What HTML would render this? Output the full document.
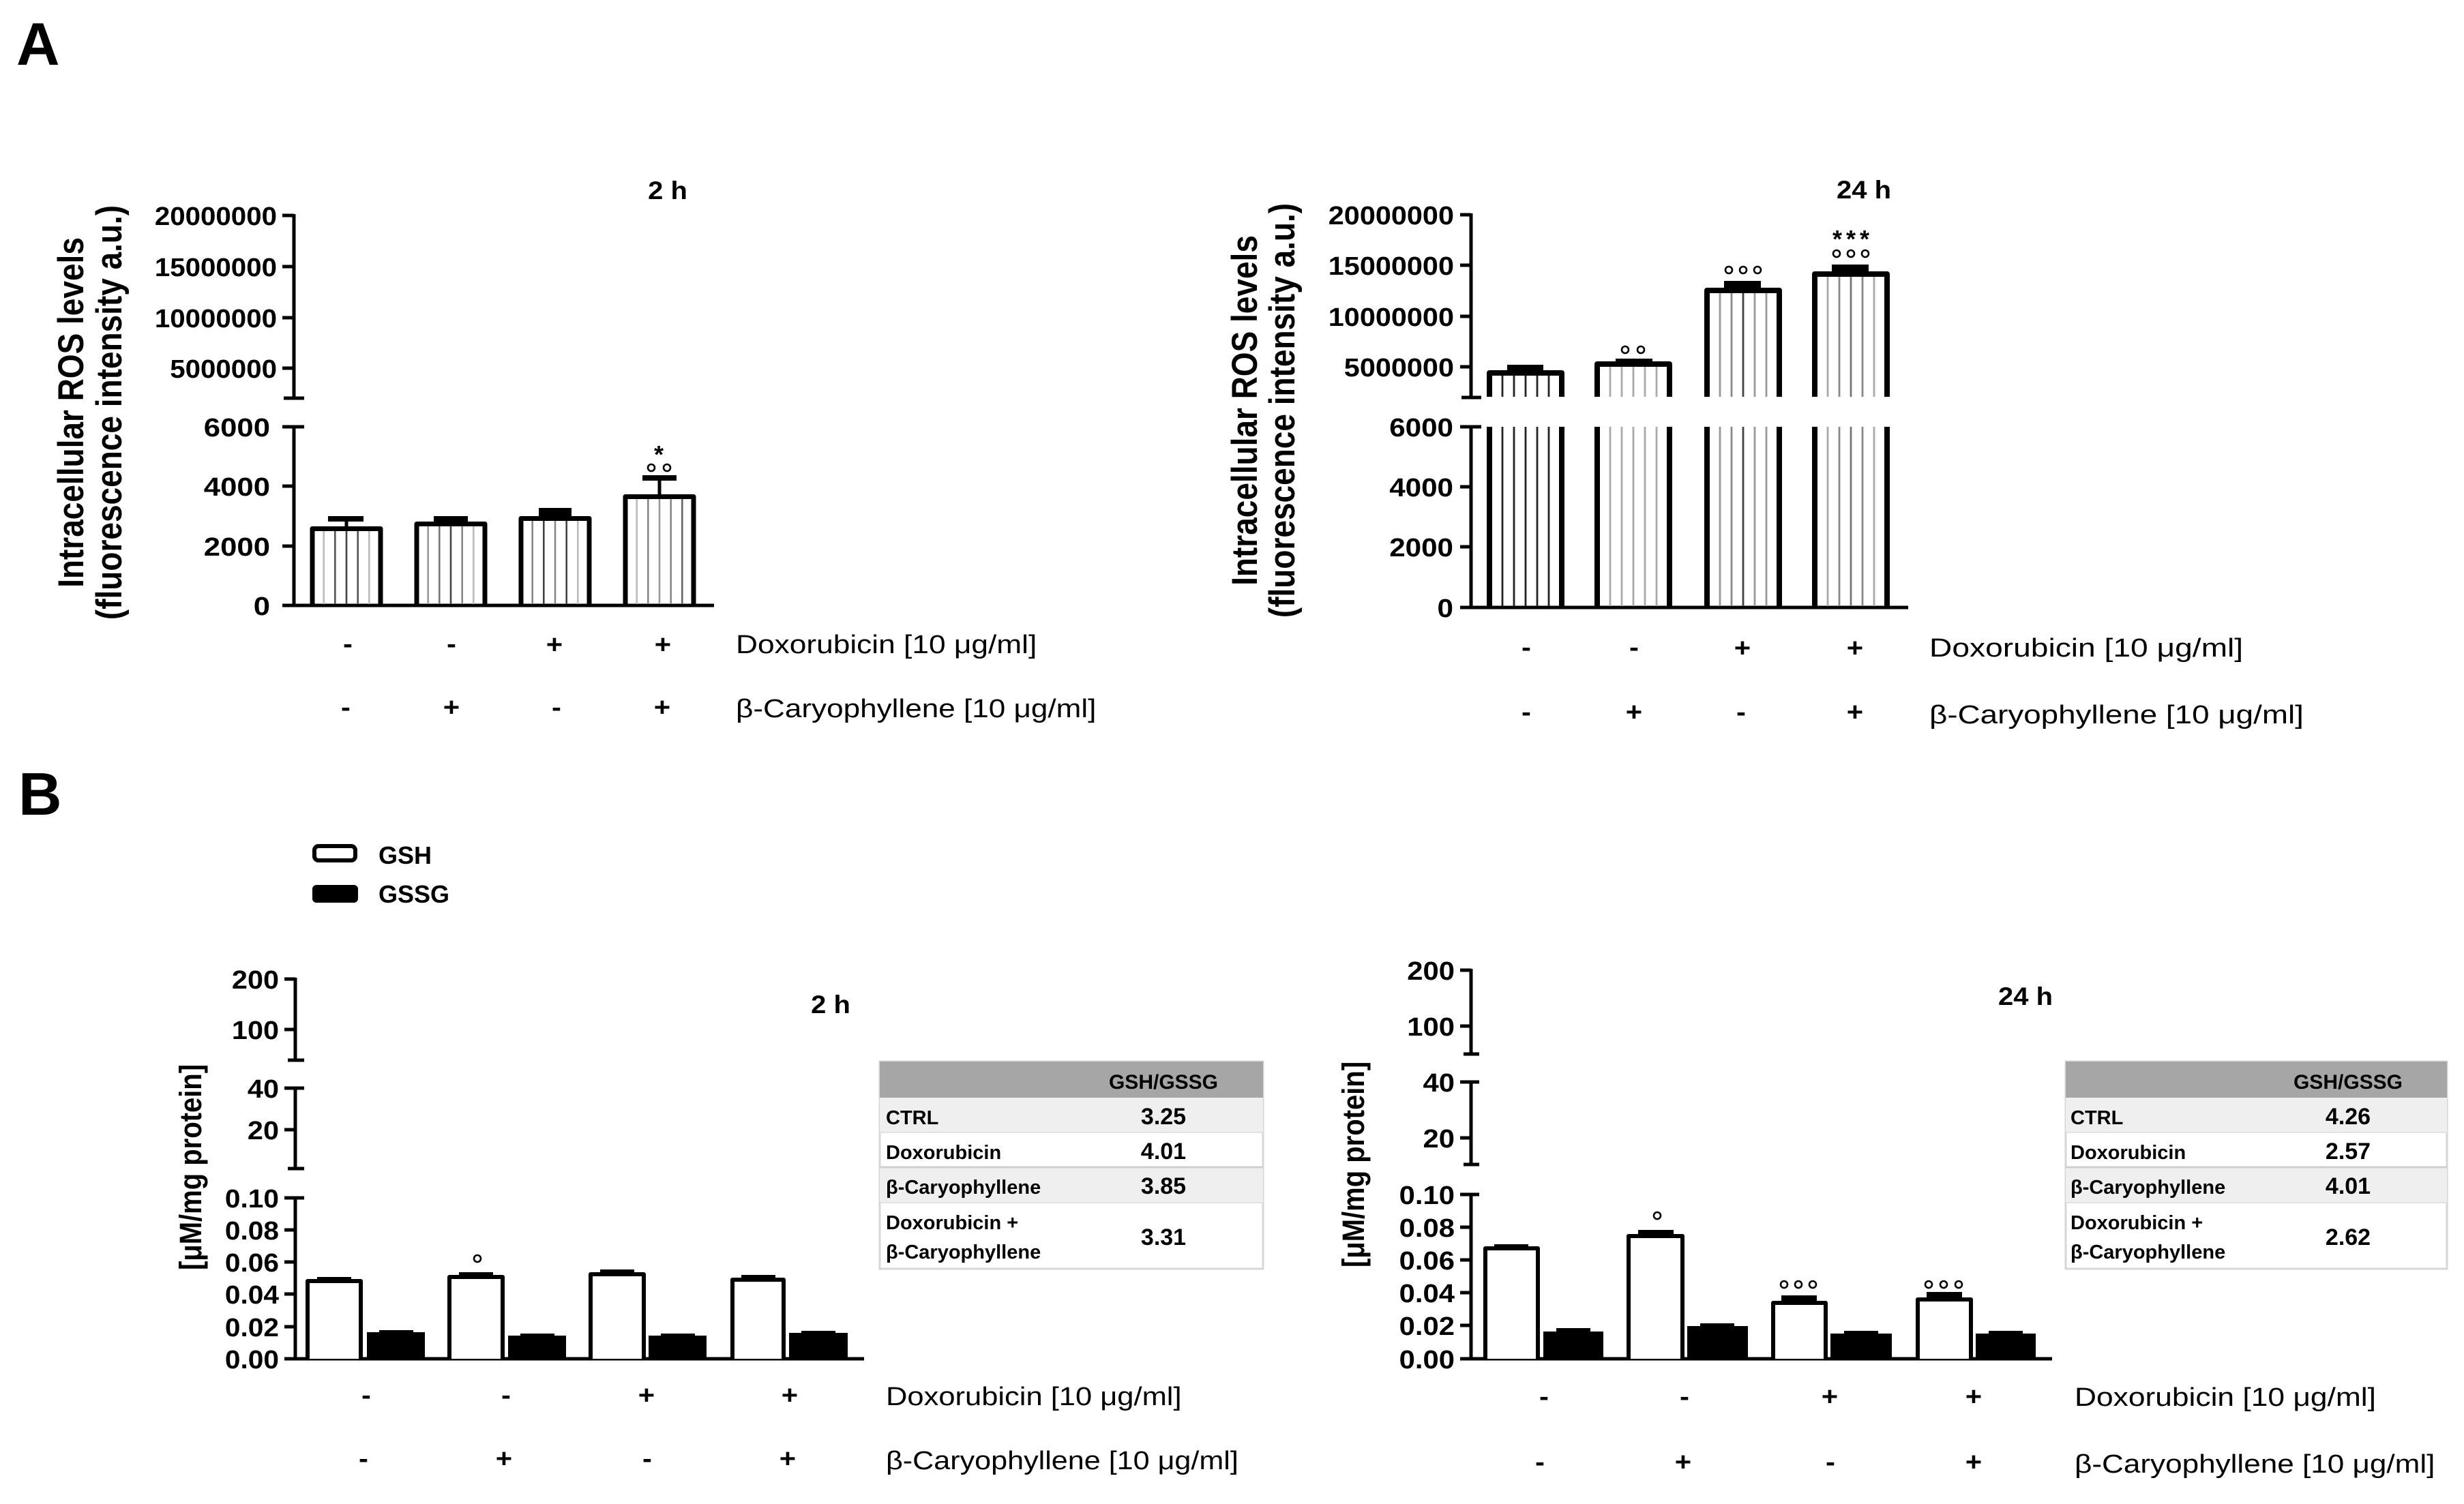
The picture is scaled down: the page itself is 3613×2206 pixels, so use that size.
<!DOCTYPE html>
<html><head><meta charset="utf-8"><style>
html,body{margin:0;padding:0;background:#fff;}
svg{display:block;}
text{font-family:"Liberation Sans",Arial,sans-serif;fill:#000;}
.b{font-weight:bold;}
</style></head><body>
<svg width="3613" height="2206" viewBox="0 0 3613 2206" xmlns="http://www.w3.org/2000/svg">
<rect width="3613" height="2206" fill="#fff"/>

<!-- Panel letters -->
<text class="b" x="24" y="95" font-size="88">A</text>
<text class="b" x="27" y="1195" font-size="88">B</text>

<!-- ================= A LEFT ================= -->
<g stroke="#000" stroke-width="5" fill="none">
  <line x1="431" y1="314" x2="431" y2="584"/>
  <line x1="414" y1="316" x2="431" y2="316"/>
  <line x1="414" y1="391" x2="431" y2="391"/>
  <line x1="414" y1="466" x2="431" y2="466"/>
  <line x1="414" y1="540" x2="431" y2="540"/>
  <line x1="416" y1="584" x2="446" y2="584"/>
  <line x1="431" y1="626" x2="431" y2="888"/>
  <line x1="414" y1="626" x2="446" y2="626"/>
  <line x1="414" y1="713" x2="431" y2="713"/>
  <line x1="414" y1="801" x2="431" y2="801"/>
  <line x1="414" y1="888" x2="1047" y2="888"/>
</g>
<g class="b" font-size="38" text-anchor="end">
  <text class="b" transform="translate(406,330) scale(1.06,1)">20000000</text>
  <text class="b" transform="translate(406,405) scale(1.06,1)">15000000</text>
  <text class="b" transform="translate(406,480) scale(1.06,1)">10000000</text>
  <text class="b" transform="translate(406,554) scale(1.06,1)">5000000</text>
  <text class="b" transform="translate(396,640) scale(1.15,1)">6000</text>
  <text class="b" transform="translate(396,727) scale(1.15,1)">4000</text>
  <text class="b" transform="translate(396,815) scale(1.15,1)">2000</text>
  <text class="b" transform="translate(396,902) scale(1.15,1)">0</text>
</g>
<text class="b" font-size="46" text-anchor="middle" transform="translate(122,605) rotate(-90) scale(1,1.14)">Intracellular ROS levels</text>
<text class="b" font-size="46" text-anchor="middle" transform="translate(178,605) rotate(-90) scale(1,1.14)">(fluorescence intensity a.u.)</text>
<text class="b" font-size="37" text-anchor="middle" transform="translate(979,292) scale(1.08,1)">2 h</text>

<!-- stripes A-left -->
<g stroke-width="2.6">
  <line x1="474.7" y1="776" x2="474.7" y2="886" stroke="#bbb"/>
  <line x1="491.3" y1="776" x2="491.3" y2="886" stroke="#555"/>
  <line x1="508" y1="776" x2="508" y2="886" stroke="#444"/>
  <line x1="524.7" y1="776" x2="524.7" y2="886" stroke="#555"/>
  <line x1="541.3" y1="776" x2="541.3" y2="886" stroke="#bbb"/>

  <line x1="627.7" y1="769" x2="627.7" y2="886" stroke="#999"/>
  <line x1="644.3" y1="769" x2="644.3" y2="886" stroke="#777"/>
  <line x1="661" y1="769" x2="661" y2="886" stroke="#444"/>
  <line x1="677.7" y1="769" x2="677.7" y2="886" stroke="#888"/>
  <line x1="694.3" y1="769" x2="694.3" y2="886" stroke="#bbb"/>

  <line x1="780.7" y1="761" x2="780.7" y2="886" stroke="#888"/>
  <line x1="797.3" y1="761" x2="797.3" y2="886" stroke="#444"/>
  <line x1="814" y1="761" x2="814" y2="886" stroke="#888"/>
  <line x1="830.7" y1="761" x2="830.7" y2="886" stroke="#444"/>
  <line x1="847.3" y1="761" x2="847.3" y2="886" stroke="#bbb"/>

  <line x1="933.7" y1="729" x2="933.7" y2="886" stroke="#bbb"/>
  <line x1="950.3" y1="729" x2="950.3" y2="886" stroke="#888"/>
  <line x1="967" y1="729" x2="967" y2="886" stroke="#999"/>
  <line x1="983.7" y1="729" x2="983.7" y2="886" stroke="#888"/>
  <line x1="1000.3" y1="729" x2="1000.3" y2="886" stroke="#666"/>
</g>
<!-- bars A-left -->
<g stroke="#000" stroke-width="7" fill="none" stroke-linejoin="round">
  <path d="M458 888 V775.5 H558 V888"/>
  <path d="M611 888 V768.5 H711 V888"/>
  <path d="M764 888 V760.5 H864 V888"/>
  <path d="M917 888 V728.5 H1017 V888"/>
</g>
<g fill="#000">
  <rect x="481" y="757" width="52" height="8"/><rect x="505.5" y="763" width="5" height="10"/>
  <rect x="636" y="757" width="50" height="9"/>
  <rect x="790" y="745" width="48" height="13"/>
  <rect x="942" y="697" width="50" height="8"/><rect x="964.5" y="703" width="5" height="24"/>
</g>
<g stroke="#000" stroke-width="2.6" fill="none">
  <circle cx="955" cy="686" r="5"/><circle cx="978" cy="686" r="5"/>
</g>
<text class="b" font-size="36" text-anchor="middle" x="966" y="679">*</text>

<!-- conditions A-left -->
<g class="b" font-size="38" text-anchor="middle">
  <text class="b" transform="translate(510,957) scale(1.1,1)">-</text>
  <text class="b" transform="translate(662,957) scale(1.1,1)">-</text>
  <text class="b" transform="translate(813,958) scale(1.1,1)">+</text>
  <text class="b" transform="translate(972,958) scale(1.1,1)">+</text>
  <text class="b" transform="translate(507,1050) scale(1.1,1)">-</text>
  <text class="b" transform="translate(662,1050) scale(1.1,1)">+</text>
  <text class="b" transform="translate(816,1050) scale(1.1,1)">-</text>
  <text class="b" transform="translate(971,1050) scale(1.1,1)">+</text>
</g>
<text font-size="38" transform="translate(1079,958) scale(1.165,1)">Doxorubicin [10 μg/ml]</text>
<text font-size="38" transform="translate(1079,1052) scale(1.16,1)">β-Caryophyllene [10 μg/ml]</text>

<!-- ================= A RIGHT ================= -->
<g stroke="#000" stroke-width="5" fill="none">
  <line x1="2157" y1="313" x2="2157" y2="583"/>
  <line x1="2141" y1="315" x2="2157" y2="315"/>
  <line x1="2141" y1="389" x2="2157" y2="389"/>
  <line x1="2141" y1="464" x2="2157" y2="464"/>
  <line x1="2141" y1="538" x2="2157" y2="538"/>
  <line x1="2143" y1="583" x2="2172" y2="583"/>
  <line x1="2157" y1="626" x2="2157" y2="891"/>
  <line x1="2141" y1="626" x2="2172" y2="626"/>
  <line x1="2141" y1="714" x2="2157" y2="714"/>
  <line x1="2141" y1="802" x2="2157" y2="802"/>
  <line x1="2141" y1="891" x2="2798" y2="891"/>
</g>
<g class="b" font-size="38" text-anchor="end">
  <text class="b" transform="translate(2132,329) scale(1.09,1)">20000000</text>
  <text class="b" transform="translate(2132,403) scale(1.09,1)">15000000</text>
  <text class="b" transform="translate(2132,478) scale(1.09,1)">10000000</text>
  <text class="b" transform="translate(2132,552) scale(1.09,1)">5000000</text>
  <text class="b" transform="translate(2131,640) scale(1.11,1)">6000</text>
  <text class="b" transform="translate(2131,728) scale(1.11,1)">4000</text>
  <text class="b" transform="translate(2131,816) scale(1.11,1)">2000</text>
  <text class="b" transform="translate(2131,905) scale(1.11,1)">0</text>
</g>
<text class="b" font-size="46" text-anchor="middle" transform="translate(1843,602) rotate(-90) scale(1,1.14)">Intracellular ROS levels</text>
<text class="b" font-size="46" text-anchor="middle" transform="translate(1898,602) rotate(-90) scale(1,1.14)">(fluorescence intensity a.u.)</text>
<text class="b" font-size="37" text-anchor="middle" transform="translate(2733,291) scale(1.08,1)">24 h</text>

<!-- stripes A-right: upper and lower segments -->
<g stroke-width="2.8">
  <!-- bar1 c=2237 -->
  <g stroke="#222">
    <path d="M2203 547 V582 M2220 547 V582 M2237 547 V582 M2254 547 V582 M2271 547 V582"/>
    <path d="M2203 626 V889 M2220 626 V889 M2237 626 V889 M2254 626 V889 M2271 626 V889"/>
  </g>
  <!-- bar2 c=2395 -->
  <g stroke="#aaa">
    <path d="M2361 534 V582 M2378 534 V582 M2395 534 V582 M2412 534 V582 M2429 534 V582"/>
    <path d="M2361 626 V889 M2378 626 V889 M2395 626 V889 M2412 626 V889 M2429 626 V889"/>
  </g>
  <!-- bar3 c=2556 -->
  <path d="M2522 426 V582 M2522 626 V889" stroke="#999"/>
  <path d="M2539 426 V582 M2539 626 V889" stroke="#888"/>
  <path d="M2556 426 V582 M2556 626 V889" stroke="#444"/>
  <path d="M2573 426 V582 M2573 626 V889" stroke="#999"/>
  <path d="M2590 426 V582 M2590 626 V889" stroke="#999"/>
  <!-- bar4 c=2714 -->
  <path d="M2680 402 V582 M2680 626 V889" stroke="#aaa"/>
  <path d="M2697 402 V582 M2697 626 V889" stroke="#888"/>
  <path d="M2714 402 V582 M2714 626 V889" stroke="#777"/>
  <path d="M2731 402 V582 M2731 626 V889" stroke="#888"/>
  <path d="M2748 402 V582 M2748 626 V889" stroke="#aaa"/>
</g>
<g stroke="#000" stroke-width="8" fill="none" stroke-linejoin="round">
  <path d="M2184 582 V547 H2290 V582"/><path d="M2184 626 V891 M2290 626 V891"/>
  <path d="M2342 582 V534 H2448 V582"/><path d="M2342 626 V891 M2448 626 V891"/>
  <path d="M2503 582 V426 H2609 V582"/><path d="M2503 626 V891 M2609 626 V891"/>
  <path d="M2661 582 V402 H2767 V582"/><path d="M2661 626 V891 M2767 626 V891"/>
</g>
<g fill="#000">
  <rect x="2210" y="535" width="53" height="10"/>
  <rect x="2369" y="526" width="54" height="7"/>
  <rect x="2528" y="412" width="54" height="12"/>
  <rect x="2686" y="388" width="54" height="12"/>
</g>
<g stroke="#000" stroke-width="2.6" fill="none">
  <circle cx="2383" cy="513" r="5"/><circle cx="2406" cy="513" r="5"/>
  <circle cx="2535" cy="396" r="5"/><circle cx="2556" cy="396" r="5"/><circle cx="2577" cy="396" r="5"/>
  <circle cx="2693" cy="372" r="5"/><circle cx="2714" cy="372" r="5"/><circle cx="2735" cy="372" r="5"/>
</g>
<g class="b" font-size="36" text-anchor="middle">
  <text class="b" x="2694" y="363">*</text><text class="b" x="2714" y="363">*</text><text class="b" x="2734" y="363">*</text>
</g>

<g class="b" font-size="38" text-anchor="middle">
  <text class="b" transform="translate(2238,962) scale(1.1,1)">-</text>
  <text class="b" transform="translate(2396,962) scale(1.1,1)">-</text>
  <text class="b" transform="translate(2555,963) scale(1.1,1)">+</text>
  <text class="b" transform="translate(2720,963) scale(1.1,1)">+</text>
  <text class="b" transform="translate(2238,1057) scale(1.1,1)">-</text>
  <text class="b" transform="translate(2396,1057) scale(1.1,1)">+</text>
  <text class="b" transform="translate(2553,1057) scale(1.1,1)">-</text>
  <text class="b" transform="translate(2720,1057) scale(1.1,1)">+</text>
</g>
<text font-size="38" transform="translate(2829,963) scale(1.215,1)">Doxorubicin [10 μg/ml]</text>
<text font-size="38" transform="translate(2829,1061) scale(1.205,1)">β-Caryophyllene [10 μg/ml]</text>

<!-- ================= B legend ================= -->
<rect x="461" y="1241" width="60" height="21" rx="6" ry="6" fill="#fff" stroke="#000" stroke-width="6"/>
<rect x="458" y="1298" width="67" height="26" rx="6" ry="6" fill="#000"/>
<text class="b" font-size="36" x="555" y="1267">GSH</text>
<text class="b" font-size="36" x="555" y="1324">GSSG</text>

<!-- ================= B LEFT ================= -->
<g stroke="#000" stroke-width="5" fill="none">
  <line x1="433" y1="1434" x2="433" y2="1555"/>
  <line x1="417" y1="1436" x2="433" y2="1436"/>
  <line x1="417" y1="1510" x2="433" y2="1510"/>
  <line x1="422" y1="1555" x2="446" y2="1555"/>
  <line x1="433" y1="1596" x2="433" y2="1714"/>
  <line x1="417" y1="1596" x2="446" y2="1596"/>
  <line x1="417" y1="1657" x2="433" y2="1657"/>
  <line x1="422" y1="1714" x2="446" y2="1714"/>
  <line x1="433" y1="1757" x2="433" y2="1993"/>
  <line x1="417" y1="1757" x2="446" y2="1757"/>
  <line x1="417" y1="1804" x2="433" y2="1804"/>
  <line x1="417" y1="1851" x2="433" y2="1851"/>
  <line x1="417" y1="1898" x2="433" y2="1898"/>
  <line x1="417" y1="1946" x2="433" y2="1946"/>
  <line x1="417" y1="1993" x2="1267" y2="1993"/>
</g>
<g class="b" font-size="38" text-anchor="end">
  <text class="b" transform="translate(409,1450) scale(1.09,1)">200</text>
  <text class="b" transform="translate(409,1524) scale(1.09,1)">100</text>
  <text class="b" transform="translate(409,1610) scale(1.09,1)">40</text>
  <text class="b" transform="translate(409,1671) scale(1.09,1)">20</text>
  <text class="b" transform="translate(409,1771) scale(1.07,1)">0.10</text>
  <text class="b" transform="translate(409,1818) scale(1.07,1)">0.08</text>
  <text class="b" transform="translate(409,1865) scale(1.07,1)">0.06</text>
  <text class="b" transform="translate(409,1912) scale(1.07,1)">0.04</text>
  <text class="b" transform="translate(409,1960) scale(1.07,1)">0.02</text>
  <text class="b" transform="translate(409,2007) scale(1.07,1)">0.00</text>
</g>
<text class="b" font-size="40" text-anchor="middle" transform="translate(295,1712) rotate(-90) scale(1,1.14)">[μM/mg protein]</text>
<text class="b" font-size="37" text-anchor="middle" transform="translate(1218,1486) scale(1.08,1)">2 h</text>

<g fill="#000">
  <!-- GSSG bars -->
  <rect x="538" y="1954" width="85" height="39"/><rect x="556" y="1951" width="50" height="5"/>
  <rect x="745" y="1959" width="85" height="34"/><rect x="763" y="1956" width="50" height="5"/>
  <rect x="951" y="1959" width="85" height="34"/><rect x="969" y="1956" width="50" height="5"/>
  <rect x="1157" y="1955" width="86" height="38"/><rect x="1175" y="1952" width="50" height="5"/>
  <!-- GSH caps -->
  <rect x="465" y="1873" width="50" height="5"/>
  <rect x="673" y="1866" width="50" height="6"/>
  <rect x="880" y="1862" width="50" height="6"/>
  <rect x="1087" y="1870" width="50" height="6"/>
</g>
<g stroke="#000" stroke-width="6" fill="#fff" stroke-linejoin="round">
  <path d="M451 1993 V1879 H529 V1993"/>
  <path d="M659 1993 V1873 H737 V1993"/>
  <path d="M866 1993 V1869 H944 V1993"/>
  <path d="M1074 1993 V1877 H1149 V1993"/>
</g>
<circle cx="700" cy="1846" r="5" stroke="#000" stroke-width="2.6" fill="none"/>

<g class="b" font-size="38" text-anchor="middle">
  <text class="b" transform="translate(537,2059) scale(1.1,1)">-</text>
  <text class="b" transform="translate(742,2059) scale(1.1,1)">-</text>
  <text class="b" transform="translate(948,2059) scale(1.1,1)">+</text>
  <text class="b" transform="translate(1158,2059) scale(1.1,1)">+</text>
  <text class="b" transform="translate(533,2152) scale(1.1,1)">-</text>
  <text class="b" transform="translate(739,2152) scale(1.1,1)">+</text>
  <text class="b" transform="translate(949,2152) scale(1.1,1)">-</text>
  <text class="b" transform="translate(1155,2152) scale(1.1,1)">+</text>
</g>
<text font-size="38" transform="translate(1299,2061) scale(1.145,1)">Doxorubicin [10 μg/ml]</text>
<text font-size="38" transform="translate(1299,2155) scale(1.135,1)">β-Caryophyllene [10 μg/ml]</text>

<!-- Table B-left -->
<g>
  <rect x="1290" y="1557" width="562" height="304" fill="#fff" stroke="#d6d6d6" stroke-width="3"/>
  <rect x="1290" y="1557" width="562" height="53" fill="#a6a6a6"/>
  <rect x="1290" y="1610" width="562" height="51" fill="#efefef"/>
  <rect x="1290" y="1712" width="562" height="52" fill="#efefef"/>
  <line x1="1290" y1="1661" x2="1852" y2="1661" stroke="#e2e2e2" stroke-width="2"/>
  <line x1="1290" y1="1712" x2="1852" y2="1712" stroke="#d0d0d0" stroke-width="3"/>
  <line x1="1290" y1="1764" x2="1852" y2="1764" stroke="#e2e2e2" stroke-width="2"/>
</g>
<g class="b" font-size="30">
  <text class="b" x="1706" y="1597" text-anchor="middle" fill="#111">GSH/GSSG</text>
  <text class="b" x="1299" y="1649" font-size="29">CTRL</text>
  <text class="b" x="1299" y="1700" font-size="29">Doxorubicin</text>
  <text class="b" x="1299" y="1751" font-size="29">β-Caryophyllene</text>
  <text class="b" x="1299" y="1803" font-size="29">Doxorubicin +</text>
  <text class="b" x="1299" y="1846" font-size="29">β-Caryophyllene</text>
  <text class="b" x="1706" y="1649" font-size="34" text-anchor="middle">3.25</text>
  <text class="b" x="1706" y="1700" font-size="34" text-anchor="middle">4.01</text>
  <text class="b" x="1706" y="1751" font-size="34" text-anchor="middle">3.85</text>
  <text class="b" x="1706" y="1826" font-size="34" text-anchor="middle">3.31</text>
</g>

<!-- ================= B RIGHT ================= -->
<g stroke="#000" stroke-width="5" fill="none">
  <line x1="2157" y1="1421" x2="2157" y2="1546"/>
  <line x1="2141" y1="1423" x2="2157" y2="1423"/>
  <line x1="2141" y1="1505" x2="2157" y2="1505"/>
  <line x1="2146" y1="1546" x2="2169" y2="1546"/>
  <line x1="2157" y1="1587" x2="2157" y2="1708"/>
  <line x1="2141" y1="1587" x2="2169" y2="1587"/>
  <line x1="2141" y1="1669" x2="2157" y2="1669"/>
  <line x1="2146" y1="1708" x2="2169" y2="1708"/>
  <line x1="2157" y1="1752" x2="2157" y2="1993"/>
  <line x1="2141" y1="1752" x2="2169" y2="1752"/>
  <line x1="2141" y1="1800" x2="2157" y2="1800"/>
  <line x1="2141" y1="1848" x2="2157" y2="1848"/>
  <line x1="2141" y1="1896" x2="2157" y2="1896"/>
  <line x1="2141" y1="1944" x2="2157" y2="1944"/>
  <line x1="2141" y1="1993" x2="3009" y2="1993"/>
</g>
<g class="b" font-size="38" text-anchor="end">
  <text class="b" transform="translate(2133,1437) scale(1.1,1)">200</text>
  <text class="b" transform="translate(2133,1519) scale(1.1,1)">100</text>
  <text class="b" transform="translate(2133,1601) scale(1.1,1)">40</text>
  <text class="b" transform="translate(2133,1683) scale(1.1,1)">20</text>
  <text class="b" transform="translate(2133,1766) scale(1.1,1)">0.10</text>
  <text class="b" transform="translate(2133,1814) scale(1.1,1)">0.08</text>
  <text class="b" transform="translate(2133,1862) scale(1.1,1)">0.06</text>
  <text class="b" transform="translate(2133,1910) scale(1.1,1)">0.04</text>
  <text class="b" transform="translate(2133,1958) scale(1.1,1)">0.02</text>
  <text class="b" transform="translate(2133,2007) scale(1.1,1)">0.00</text>
</g>
<text class="b" font-size="40" text-anchor="middle" transform="translate(2000,1708) rotate(-90) scale(1,1.14)">[μM/mg protein]</text>
<text class="b" font-size="37" text-anchor="middle" transform="translate(2970,1474) scale(1.08,1)">24 h</text>

<g fill="#000">
  <rect x="2263" y="1953" width="88" height="40"/><rect x="2282" y="1948" width="50" height="6"/>
  <rect x="2474" y="1945" width="89" height="48"/><rect x="2493" y="1941" width="50" height="6"/>
  <rect x="2684" y="1956" width="90" height="37"/><rect x="2704" y="1952" width="50" height="6"/>
  <rect x="2897" y="1956" width="88" height="37"/><rect x="2916" y="1952" width="50" height="6"/>
  <rect x="2191" y="1825" width="50" height="6"/>
  <rect x="2402" y="1804" width="52" height="8"/>
  <rect x="2612" y="1900" width="52" height="10"/>
  <rect x="2825" y="1895" width="52" height="10"/>
</g>
<g stroke="#000" stroke-width="6" fill="#fff" stroke-linejoin="round">
  <path d="M2178 1993 V1831 H2255 V1993"/>
  <path d="M2388 1993 V1813 H2467 V1993"/>
  <path d="M2600 1993 V1911 H2677 V1993"/>
  <path d="M2812 1993 V1906 H2890 V1993"/>
</g>
<g stroke="#000" stroke-width="2.6" fill="none">
  <circle cx="2430" cy="1783" r="5"/>
  <circle cx="2616" cy="1884" r="5"/><circle cx="2637" cy="1884" r="5"/><circle cx="2658" cy="1884" r="5"/>
  <circle cx="2828" cy="1884" r="5"/><circle cx="2850" cy="1884" r="5"/><circle cx="2872" cy="1884" r="5"/>
</g>

<g class="b" font-size="38" text-anchor="middle">
  <text class="b" transform="translate(2264,2061) scale(1.1,1)">-</text>
  <text class="b" transform="translate(2470,2061) scale(1.1,1)">-</text>
  <text class="b" transform="translate(2683,2061) scale(1.1,1)">+</text>
  <text class="b" transform="translate(2894,2061) scale(1.1,1)">+</text>
  <text class="b" transform="translate(2258,2157) scale(1.1,1)">-</text>
  <text class="b" transform="translate(2468,2157) scale(1.1,1)">+</text>
  <text class="b" transform="translate(2684,2157) scale(1.1,1)">-</text>
  <text class="b" transform="translate(2894,2157) scale(1.1,1)">+</text>
</g>
<text font-size="38" transform="translate(3042,2062) scale(1.167,1)">Doxorubicin [10 μg/ml]</text>
<text font-size="38" transform="translate(3042,2160) scale(1.16,1)">β-Caryophyllene [10 μg/ml]</text>

<!-- Table B-right -->
<g>
  <rect x="3029" y="1557" width="559" height="304" fill="#fff" stroke="#d6d6d6" stroke-width="3"/>
  <rect x="3029" y="1557" width="559" height="53" fill="#a6a6a6"/>
  <rect x="3029" y="1610" width="559" height="51" fill="#efefef"/>
  <rect x="3029" y="1712" width="559" height="52" fill="#efefef"/>
  <line x1="3029" y1="1661" x2="3588" y2="1661" stroke="#e2e2e2" stroke-width="2"/>
  <line x1="3029" y1="1712" x2="3588" y2="1712" stroke="#d0d0d0" stroke-width="3"/>
  <line x1="3029" y1="1764" x2="3588" y2="1764" stroke="#e2e2e2" stroke-width="2"/>
</g>
<g class="b" font-size="30">
  <text class="b" x="3443" y="1597" text-anchor="middle" fill="#111">GSH/GSSG</text>
  <text class="b" x="3036" y="1649" font-size="29">CTRL</text>
  <text class="b" x="3036" y="1700" font-size="29">Doxorubicin</text>
  <text class="b" x="3036" y="1751" font-size="29">β-Caryophyllene</text>
  <text class="b" x="3036" y="1803" font-size="29">Doxorubicin +</text>
  <text class="b" x="3036" y="1846" font-size="29">β-Caryophyllene</text>
  <text class="b" x="3443" y="1649" font-size="34" text-anchor="middle">4.26</text>
  <text class="b" x="3443" y="1700" font-size="34" text-anchor="middle">2.57</text>
  <text class="b" x="3443" y="1751" font-size="34" text-anchor="middle">4.01</text>
  <text class="b" x="3443" y="1826" font-size="34" text-anchor="middle">2.62</text>
</g>
</svg>
</body></html>
